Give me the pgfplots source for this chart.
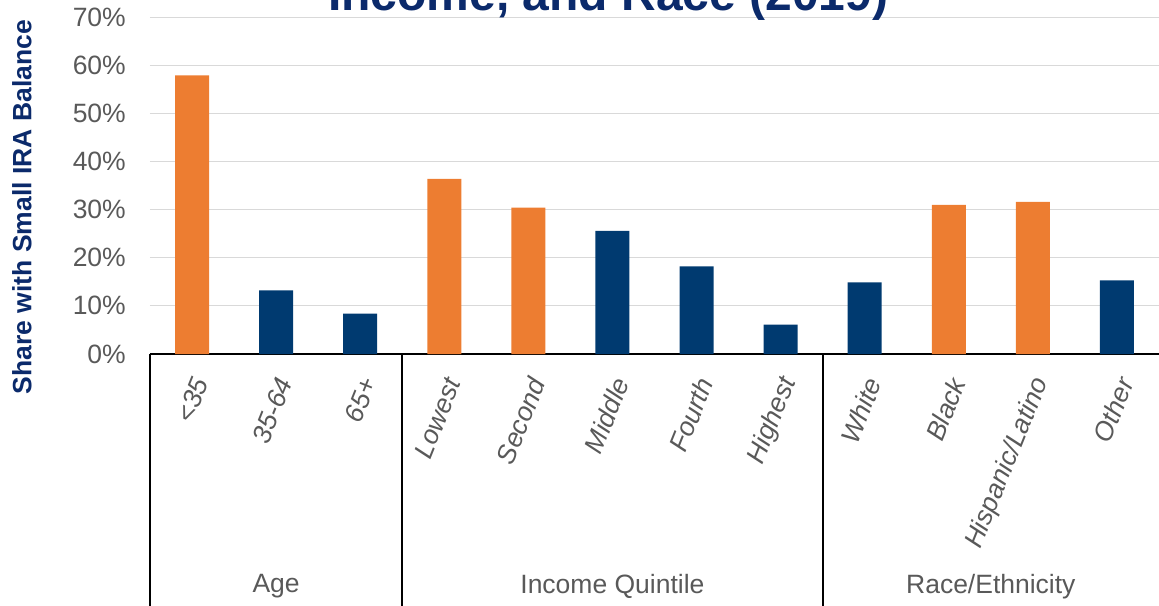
\documentclass[border=0pt]{standalone}
\usepackage{pgfplots}
\pgfplotsset{compat=1.18}
\usepackage{fontspec}
\setmainfont{Liberation Sans}
\definecolor{barorange}{HTML}{ED7D31}
\definecolor{barnavy}{HTML}{003A70}
\definecolor{textnavy}{HTML}{0B2A6B}
\definecolor{txtgray}{HTML}{595959}
\definecolor{gridgray}{HTML}{D9D9D9}
\newcommand{\bigfs}{\fontsize{26.5}{31}\selectfont}
\begin{document}
\begin{tikzpicture}
\useasboundingbox (-150pt,-251pt) rectangle (1009pt,354pt);
\begin{axis}[
  at={(0,0)}, anchor=south west,
  width=1009pt, height=337pt, scale only axis,
  xmin=-0.5, xmax=11.5, ymin=0, ymax=70,
  ybar, bar width=34pt,
  clip=false,
  axis x line*=bottom, axis y line*=left,
  axis line style={-},
  x axis line style={line width=2pt, black},
  y axis line style={draw=none},
  major tick length=0pt,
  ytick={0,10,20,30,40,50,60,70},
  yticklabel={\pgfmathprintnumber{\tick}\%},
  /pgf/number format/assume math mode=true,
  yticklabel style={font=\bigfs, text=txtgray, inner sep=0pt, anchor=east, xshift=-24pt},
  ymajorgrids, grid style={draw=gridgray, line width=1pt},
  xtick={0,1,2,3,4,5,6,7,8,9,10,11},
  xticklabels={<35,35-64,65+,Lowest,Second,Middle,Fourth,Highest,White,Black,Hispanic/Latino,Other},
  xticklabel style={font=\bigfs\itshape, text=txtgray, inner sep=0pt, xshift=9pt, yshift=-25pt, rotate=68, anchor=east},
  ylabel={Share with Small IRA Balance},
  ylabel style={font=\bigfs\bfseries, text=textnavy, at={(axis description cs:-0.127,0.436)}, anchor=center},
]
\addplot[fill=barorange, draw=none, bar shift=0pt] coordinates {(0,57.9) (3,36.4) (4,30.4) (9,31.0) (10,31.6)};
\addplot[fill=barnavy, draw=none, bar shift=0pt] coordinates {(1,13.2) (2,8.4) (5,25.6) (6,18.2) (7,6.1) (8,14.9) (11,15.3)};
\draw[line width=2pt, black] (axis cs:-0.5,0) -- (axis cs:-0.5,-53);
\draw[line width=2pt, black] (axis cs:2.5,0) -- (axis cs:2.5,-53);
\draw[line width=2pt, black] (axis cs:7.5,0) -- (axis cs:7.5,-53);
\node[font=\bigfs, text=txtgray, anchor=center] at (axis cs:1,-48.3) {Age};
\node[font=\bigfs, text=txtgray, anchor=center] at (axis cs:5,-48.3) {Income Quintile};
\node[font=\bigfs, text=txtgray, anchor=center] at (axis cs:9.5,-48.3) {Race/Ethnicity};
\node[font=\fontsize{48}{56}\selectfont\bfseries, text=textnavy, anchor=base] at (axis cs:4.95,71.25) {Income, and Race (2019)};
\end{axis}
\end{tikzpicture}
\end{document}
